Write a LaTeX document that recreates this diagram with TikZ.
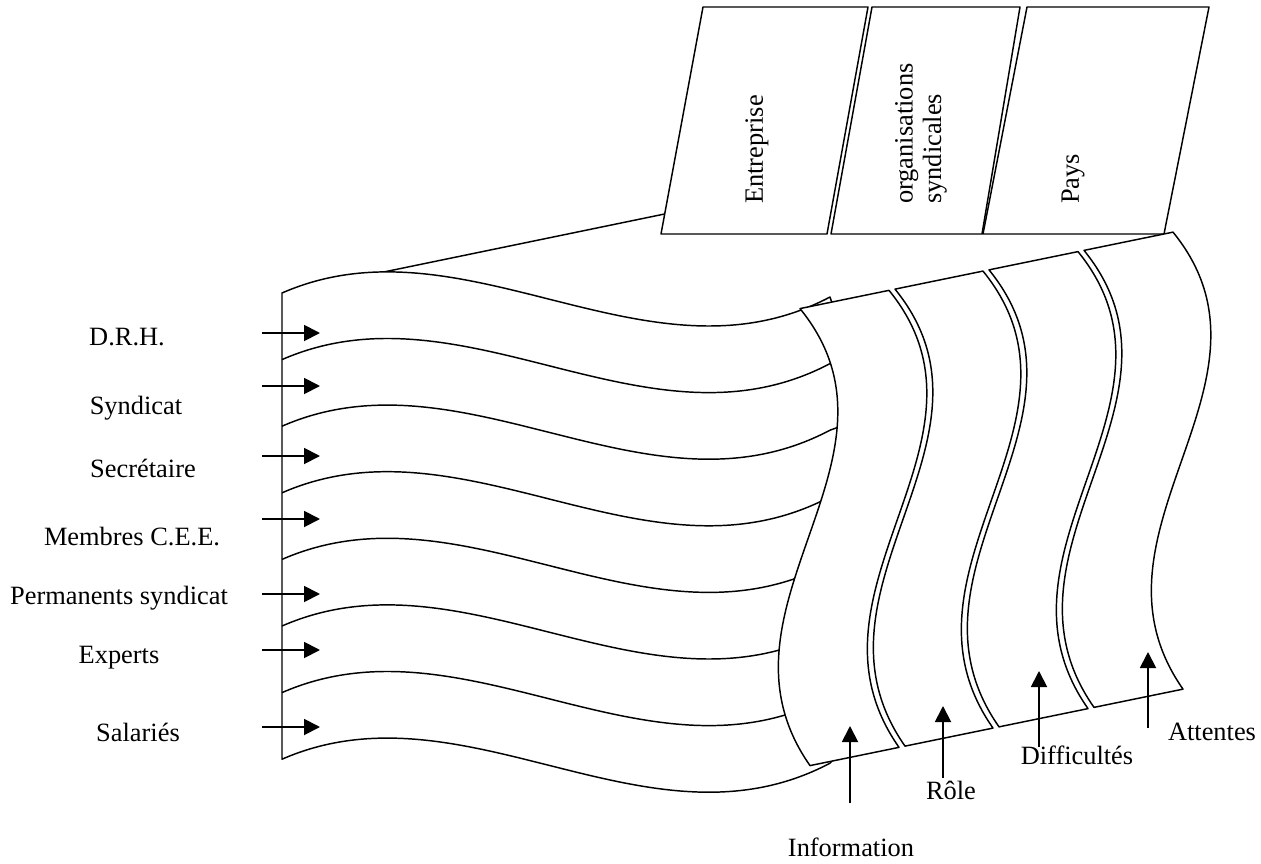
\documentclass[tikz,border=0pt]{standalone}
\usepackage{fontspec}
\setmainfont{Liberation Serif}
\usetikzlibrary{arrows.meta}
\begin{document}
\begin{tikzpicture}[x=0.75pt,y=-0.75pt,line join=round,
  shp/.style={draw=black,fill=white,line width=1.1pt},
  ln/.style={draw=black,line width=1.1pt},
  arr/.style={line width=1.4pt,-{Triangle[length=12pt,width=12pt]}},
  lbl/.style={font=\fontsize{19.8}{21.5}\selectfont,inner sep=0pt},
  vlbl/.style={lbl,rotate=90,anchor=west,align=left}]
\useasboundingbox (0,0) rectangle (1261,864);

% top faces
\draw[shp] (661,234) -- (827,234) -- (868,7) -- (703,7) -- cycle;
\draw[shp] (831,234) -- (982,234) -- (1020,7) -- (872,7) -- cycle;
\draw[shp] (983,234) -- (1164,234) -- (1209,7) -- (1027,7) -- cycle;
\node[vlbl] (entreprise) at (757,204) {Entreprise};
\node[vlbl] (orgs) at (921,204) {organisations\\syndicales};
\node[vlbl] (pays) at (1073,204) {Pays};

% edge from front face to top face
\coordinate (flagTL) at (282,293);
\coordinate (boxL) at (664.6,214);
\draw[ln] (flagTL) -- (boxL);

% front flag (its right side lies hidden under the first band)
\draw[shp] (282,293) -- (282,759.2)
  .. controls (465,679.2) and (648,859.2) .. (830,763.2)
  -- (850,740) -- (850,320) -- (832,303) -- (830,297)
  .. controls (648,393) and (465,213) .. (282,293) -- cycle;
\foreach \k in {1,...,6}{
  \pgfmathsetmacro\yy{293+66.6*\k}
  \draw[ln] (282,\yy) .. controls (465,\yy-80) and (648,\yy+100) .. (830,\yy+4) -- (852,\yy-4);
}

% right side bands
\foreach \L/\R/\n in {800/889/info,895/983/role,989/1078/diff,1084/1173/att}{
  \pgfmathsetmacro\Ly{308.6-0.205*(\L-800)}
  \pgfmathsetmacro\Ry{308.6-0.205*(\R-800)}
  \coordinate (\n TL) at (\L,\Ly);
  \coordinate (\n TR) at (\R,\Ry);
  \coordinate (\n BR) at (\R+10,\Ry+457);
  \coordinate (\n BL) at (\L+10,\Ly+457);
  \draw[shp] (\n TL) -- (\n TR)
    .. controls (\R+122,\Ry+150) and (\R-100,\Ry+300) .. (\n BR)
    -- (\n BL)
    .. controls (\L-100,\Ly+300) and (\L+122,\Ly+150) .. (\n TL) -- cycle;
}

% left arrows and labels
\foreach \y/\t/\cx/\cy/\nm in {333/D.R.H./127/337/drh,386/Syndicat/136/408/synd,456/Secrétaire/143/468/secr,519/Membres C.E.E./132/537/cee,594/Permanents syndicat/119/598/perm,650/Experts/119/658/exp,727/Salariés/138/732/sal}{
  \node[lbl] (\nm) at (\cx,\cy) {\t};
  \coordinate (\nm a) at (262,\y);
  \coordinate (\nm b) at (320,\y);
  \draw[arr] (\nm a) -- (\nm b);
}

% bottom arrows and labels
\coordinate (infoA) at (850,803);  \coordinate (infoB) at (850,726);
\coordinate (roleA) at (943,778);  \coordinate (roleB) at (943,706);
\coordinate (diffA) at (1039,747); \coordinate (diffB) at (1039,671);
\coordinate (attA) at (1148,728);  \coordinate (attB) at (1148,652);
\draw[arr] (infoA) -- (infoB);
\draw[arr] (roleA) -- (roleB);
\draw[arr] (diffA) -- (diffB);
\draw[arr] (attA) -- (attB);
\node[lbl] (information) at (851,847) {Information};
\node[lbl] (role) at (951,790) {Rôle};
\node[lbl] (difficultes) at (1077,755) {Difficultés};
\node[lbl] (attentes) at (1212,732) {Attentes};
\end{tikzpicture}
\end{document}
